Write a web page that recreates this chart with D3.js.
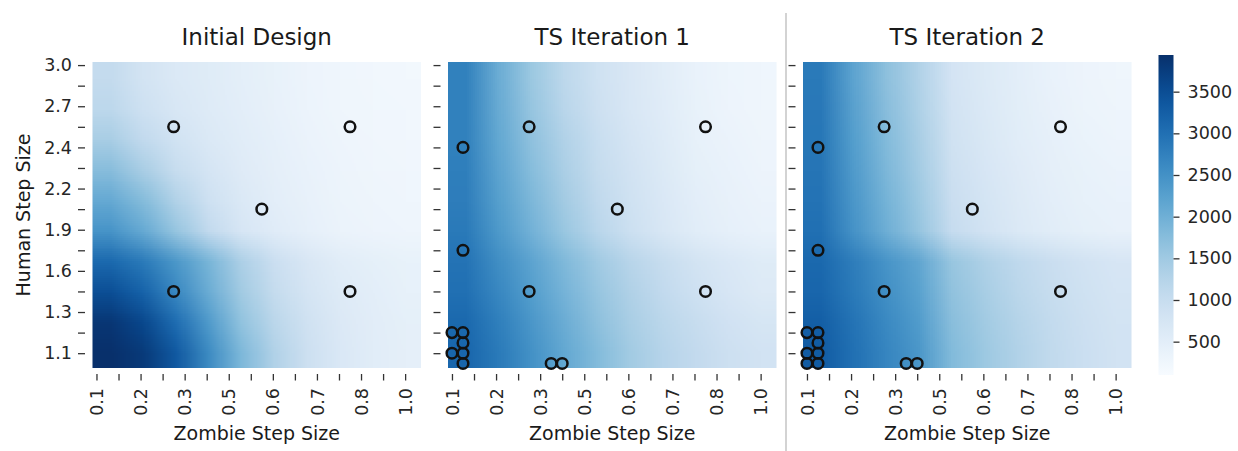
<!DOCTYPE html>
<html>
<head>
<meta charset="utf-8">
<script src="https://cdn.jsdelivr.net/npm/d3@7"></script>
<style>
  body { margin: 0; background: #fff; }
  svg { display: block; font-family: "DejaVu Sans", sans-serif; }
  .tick line { stroke: #333; stroke-width: 1.3; }
  .tick text { fill: #262626; }
</style>
</head>
<body>
<div id="main"></div>
<script>
const titles = ["Initial Design", "TS Iteration 1", "TS Iteration 2"];

// tick labels of the heatmap grid (every second tick is unlabelled)
const xTickLabels = ["0.1", "", "0.2", "", "0.3", "", "0.5", "", "0.6", "", "0.7", "", "0.8", "", "1.0"];
const yTickLabels = ["3.0", "", "2.7", "", "2.4", "", "2.2", "", "1.9", "", "1.6", "", "1.3", "", "1.1"];

const cbarTicks = [500, 1000, 1500, 2000, 2500, 3000, 3500];
const valueDomain = [100, 3940];

// surface values, 10 rows (top = human 3.0) x 10 cols (left = zombie 0.1)
const gridInitial = [
    [1050, 800, 650, 560, 470, 380, 300, 250, 220, 200],
    [1150, 880, 700, 580, 480, 390, 310, 260, 230, 210],
    [1400, 1080, 830, 650, 520, 420, 330, 280, 240, 220],
    [1750, 1400, 1000, 750, 570, 450, 360, 300, 260, 240],
    [2100, 1780, 1300, 880, 640, 490, 390, 320, 280, 250],
    [2450, 2100, 1600, 1080, 720, 540, 420, 340, 300, 270],
    [3100, 2850, 2400, 1900, 1350, 930, 690, 530, 440, 380],
    [3500, 3200, 2650, 2050, 1480, 1040, 760, 580, 480, 410],
    [3850, 3600, 3050, 2350, 1650, 1180, 850, 630, 510, 440],
    [3940, 3800, 3350, 2600, 1850, 1300, 900, 660, 530, 450]
];

const gridIter1 = [
    [2750, 2050, 1550, 1150, 860, 690, 520, 360, 290, 250],
    [2750, 2080, 1600, 1200, 900, 710, 540, 380, 300, 260],
    [2750, 2130, 1680, 1300, 980, 760, 580, 410, 330, 280],
    [2780, 2200, 1760, 1380, 1040, 810, 620, 440, 360, 300],
    [2800, 2280, 1860, 1470, 1110, 860, 660, 480, 390, 330],
    [2850, 2380, 1960, 1570, 1200, 920, 710, 520, 420, 360],
    [2950, 2550, 2200, 1830, 1500, 1220, 1000, 800, 660, 560],
    [3000, 2650, 2300, 1930, 1600, 1320, 1080, 880, 720, 610],
    [3100, 2780, 2420, 2050, 1700, 1400, 1180, 1000, 840, 740],
    [3150, 2850, 2500, 2130, 1800, 1480, 1240, 1070, 910, 820]
];

const gridIter2 = [
    [2850, 2200, 1700, 1300, 780, 620, 480, 370, 300, 260],
    [2880, 2250, 1750, 1340, 810, 640, 500, 390, 320, 280],
    [2900, 2300, 1800, 1400, 850, 680, 530, 420, 350, 300],
    [2920, 2350, 1860, 1460, 900, 720, 570, 450, 380, 330],
    [2950, 2420, 1940, 1530, 960, 770, 610, 490, 410, 360],
    [3000, 2480, 2020, 1600, 1020, 820, 650, 520, 440, 390],
    [3100, 2800, 2450, 2150, 1580, 1330, 1120, 960, 820, 720],
    [3150, 2850, 2530, 2230, 1660, 1410, 1180, 1010, 860, 760],
    [3250, 2950, 2620, 2330, 1740, 1480, 1250, 1060, 900, 790],
    [3300, 3000, 2680, 2400, 1800, 1530, 1300, 1090, 930, 820]
];

// sampled designs, in grid tick units [x index, y index]
const pointsInitial = [[3.5, 3], [11.5, 3], [7.5, 7], [3.5, 11], [11.5, 11]];
const pointsIter1 = [
    [3.5, 3], [11.5, 3], [0.5, 4], [7.5, 7], [0.5, 9], [3.5, 11], [11.5, 11],
    [0, 13], [0.5, 13], [0.5, 13.5], [0, 14], [0.5, 14], [0.5, 14.5],
    [4.5, 14.5], [5, 14.5]
];
const pointsIter2 = [
    [3.5, 3], [11.5, 3], [0.5, 4], [7.5, 7], [0.5, 9], [3.5, 11], [11.5, 11],
    [0, 13], [0.5, 13], [0.5, 13.5], [0, 14], [0.5, 14], [0, 14.5], [0.5, 14.5],
    [4.5, 14.5], [5, 14.5]
];

const grids = [gridInitial, gridIter1, gridIter2];
const pointSets = [pointsInitial, pointsIter1, pointsIter2];

// layout
const W = 1238, H = 451;
const panelLeft = [92.5, 448, 803];
const panelW = 328.5;
const plotTop = 62, plotBottom = 368;
const xExtent = [-0.18, 14.72];
const yExtent = [-0.15, 14.72];
const fontFamily = '"DejaVu Sans", sans-serif';
const tickFont = 17.5;

const color = d3.scaleSequential(d3.interpolateBlues).domain(valueDomain);

const svg = d3.select('#main').append('svg')
    .attr('width', W)
    .attr('height', H);

function heatImage(grid, w, h) {
    const rows = grid.length, cols = grid[0].length;
    const small = document.createElement('canvas');
    small.width = cols;
    small.height = rows;
    const sctx = small.getContext('2d');
    const img = sctx.createImageData(cols, rows);
    grid.forEach(function (row, r) {
        row.forEach(function (v, c) {
            const rgb = d3.rgb(color(v));
            const k = (r * cols + c) * 4;
            img.data[k] = rgb.r;
            img.data[k + 1] = rgb.g;
            img.data[k + 2] = rgb.b;
            img.data[k + 3] = 255;
        });
    });
    sctx.putImageData(img, 0, 0);

    const big = document.createElement('canvas');
    big.width = Math.round(w);
    big.height = Math.round(h);
    const bctx = big.getContext('2d');
    bctx.imageSmoothingEnabled = true;
    bctx.drawImage(small, 0, 0, big.width, big.height);
    return big.toDataURL();
}

titles.forEach(function (title, p) {
    const left = panelLeft[p];
    const x = d3.scaleLinear().domain(xExtent).range([left, left + panelW]);
    const y = d3.scaleLinear().domain(yExtent).range([plotTop, plotBottom]);
    const g = svg.append('g');
    const w = x(xExtent[1]) - x(xExtent[0]);
    const h = y(yExtent[1]) - y(yExtent[0]);

    g.append('image')
        .attr('x', x(xExtent[0]))
        .attr('y', y(yExtent[0]))
        .attr('width', w)
        .attr('height', h)
        .attr('preserveAspectRatio', 'none')
        .attr('href', heatImage(grids[p], w, h));

    g.selectAll('.pt')
        .data(pointSets[p])
        .enter()
        .append('circle')
        .attr('class', 'pt')
        .attr('cx', d => x(d[0]))
        .attr('cy', d => y(d[1]))
        .attr('r', 5.3)
        .style('fill', 'none')
        .style('stroke', '#111')
        .style('stroke-width', 2.5);

    // x axis
    const xAxis = d3.axisBottom(x)
        .tickValues(d3.range(15))
        .tickSize(6.5)
        .tickFormat(i => xTickLabels[i]);
    const gx = g.append('g')
        .attr('transform', 'translate(0,' + (plotBottom + 6) + ')')
        .call(xAxis)
        .attr('font-family', fontFamily)
        .attr('font-size', tickFont);
    gx.select('.domain').remove();
    gx.selectAll('text')
        .attr('transform', 'rotate(-90)')
        .attr('text-anchor', 'end')
        .attr('x', -14)
        .attr('y', 0)
        .attr('dy', '0.35em');

    // y axis
    const yAxis = d3.axisLeft(y)
        .tickValues(d3.range(15))
        .tickSize(7)
        .tickPadding(6)
        .tickFormat(i => p === 0 ? yTickLabels[i] : '');
    const gy = g.append('g')
        .attr('transform', 'translate(' + (left - 7.5) + ',0)')
        .call(yAxis)
        .attr('font-family', fontFamily)
        .attr('font-size', tickFont);
    gy.select('.domain').remove();

    g.append('text')
        .attr('x', (x(xExtent[0]) + x(xExtent[1])) / 2)
        .attr('y', 44.5)
        .attr('text-anchor', 'middle')
        .style('font-size', '23px')
        .style('fill', '#1a1a1a')
        .text(title);

    g.append('text')
        .attr('x', (x(xExtent[0]) + x(xExtent[1])) / 2)
        .attr('y', 440)
        .attr('text-anchor', 'middle')
        .style('font-size', '19px')
        .style('fill', '#1a1a1a')
        .text('Zombie Step Size');
});

svg.append('text')
    .attr('transform', 'translate(30,' + ((plotTop + plotBottom) / 2) + ') rotate(-90)')
    .attr('text-anchor', 'middle')
    .style('font-size', '19px')
    .style('fill', '#1a1a1a')
    .text('Human Step Size');

// separator between iterations
svg.append('line')
    .attr('x1', 786).attr('x2', 786)
    .attr('y1', 13).attr('y2', H)
    .style('stroke', '#c4c4c4')
    .style('stroke-width', 1.5);

// colorbar
const cbX = 1158.5, cbW = 15, cbTop = 55, cbBottom = 375;
const cy = d3.scaleLinear().domain(valueDomain).range([cbBottom, cbTop]);

const grad = svg.append('defs').append('linearGradient')
    .attr('id', 'cbar')
    .attr('x1', 0).attr('y1', 1).attr('x2', 0).attr('y2', 0);
grad.selectAll('stop')
    .data(d3.range(0, 1.0001, 0.05))
    .enter()
    .append('stop')
    .attr('offset', d => d)
    .attr('stop-color', d => color(valueDomain[0] + d * (valueDomain[1] - valueDomain[0])));

svg.append('rect')
    .attr('x', cbX)
    .attr('y', cbTop)
    .attr('width', cbW)
    .attr('height', cbBottom - cbTop)
    .style('fill', 'url(#cbar)');

const cAxis = d3.axisRight(cy)
    .tickValues(cbarTicks)
    .tickSize(6)
    .tickPadding(8)
    .tickFormat(d3.format('d'));
const gc = svg.append('g')
    .attr('transform', 'translate(' + (cbX + cbW) + ',0)')
    .call(cAxis)
    .attr('font-family', fontFamily)
    .attr('font-size', tickFont);
gc.select('.domain').remove();
</script>
</body>
</html>
